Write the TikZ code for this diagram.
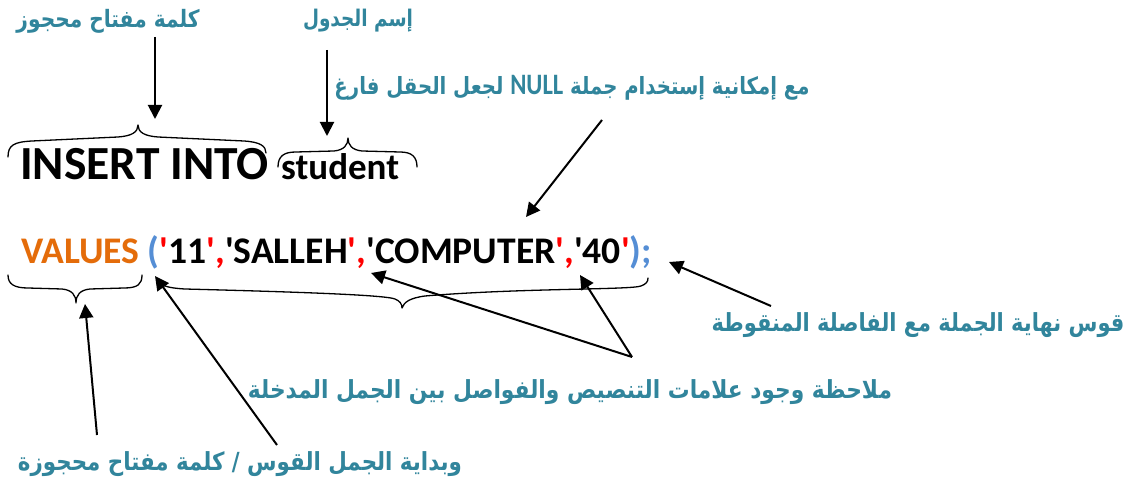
\documentclass[tikz,border=0pt]{standalone}
\usepackage{fontspec}
\usepackage{graphicx}
\usetikzlibrary{arrows.meta}
\TeXXeTstate=1
\newfontfamily\arabicfont[Script=Arabic]{DejaVu Sans}
\newfontfamily\carlito{Carlito}[Ligatures=TeXOff]
\definecolor{labteal}{HTML}{31859C}
\definecolor{kworange}{HTML}{E46C0A}
\definecolor{parblue}{HTML}{558ED5}
\definecolor{quotered}{HTML}{FF0000}
\newcommand{\ar}[1]{{\arabicfont\bfseries\fontsize{20}{24}\selectfont\beginR #1\endR}}
\tikzset{
  lab/.style={inner sep=0pt, text=labteal},
  code/.style={inner sep=0pt, anchor=base west},
  arr/.style={line width=2pt, -{Triangle[length=14pt,width=14pt]}},
  brc/.style={line width=1.3pt, line join=round, line cap=round}
}
\begin{document}
\begin{tikzpicture}[x=1pt,y=-1pt]
\useasboundingbox[fill=white] (0,0) rectangle (1135,486);

% code lines
\node[code] (ins) at (20,180) {\carlito\bfseries\fontsize{47.5}{50}\selectfont INSERT INTO};
\node[code] (stu) at (281,180) {\carlito\bfseries\fontsize{37}{40}\selectfont student};
\node[code] (val) at (21,264) {\carlito\bfseries\fontsize{37.6}{42}\selectfont
  \textcolor{kworange}{VALUES} \textcolor{parblue}{(}\textcolor{quotered}{'}11\textcolor{quotered}{',}'SALLEH\textcolor{quotered}{',}'COMPUTER\textcolor{quotered}{',}'40\textcolor{quotered}{'}\textcolor{parblue}{);}};

% labels
\node[lab] (l1) at (108,21) {\resizebox*{183pt}{24pt}{\ar{كلمة مفتاح محجوز}}};
\node[lab] (l2) at (358,21) {\resizebox*{110pt}{23pt}{\ar{إسم الجدول}}};
\node[lab] (l3) at (572,88) {\resizebox*{475pt}{25pt}{\ar{مع إمكانية إستخدام جملة {\carlito\bfseries\fontsize{25}{28}\selectfont\beginL NULL\endL} لجعل الحقل فارغ}}};
\node[lab] (l4) at (918,325) {\resizebox*{413pt}{25pt}{\ar{قوس نهاية الجملة مع الفاصلة المنقوطة}}};
\node[lab] (l5) at (570,392) {\resizebox*{644pt}{25pt}{\ar{ملاحظة وجود علامات التنصيص والفواصل بين الجمل المدخلة}}};
\node[lab] (l6) at (240,464) {\resizebox*{444pt}{25pt}{\ar{وبداية الجمل القوس / كلمة مفتاح محجوزة}}};

% braces
\draw[brc] (8,157) .. controls (8,145) and (14,142) .. (32,141) -- (118,137) .. controls (132,136) and (138,132) .. (138,125)
  .. controls (138,132) and (144,136) .. (158,137) -- (244,141) .. controls (260,142) and (266,146) .. (266,153);
\draw[brc] (278,167) .. controls (278,156) and (284,152) .. (296,152) -- (334,151) .. controls (344,150) and (348,145) .. (348,138)
  .. controls (348,145) and (352,150) .. (362,151) -- (400,152) .. controls (412,152) and (417,157) .. (417,167);
\draw[brc] (8,275) .. controls (8,284) and (14,288) .. (28,288) -- (62,289) .. controls (72,290) and (76,295) .. (76,303)
  .. controls (76,295) and (80,290) .. (90,289) -- (124,288) .. controls (138,288) and (142,284) .. (142,275);
\draw[brc] (158,279) .. controls (160,286) and (168,288) .. (185,289) .. controls (300,292) and (385,295) .. (395,299)
  .. controls (400,301) and (402,304) .. (402,308) .. controls (404,302) and (410,298) .. (425,296)
  .. controls (520,288) and (630,290) .. (641,286) .. controls (646,284) and (648,282) .. (648,278);

% connector end points
\coordinate (s1) at (155,37);   \coordinate (t1) at (155,119);
\coordinate (s2) at (327,50);   \coordinate (t2) at (327,136);
\coordinate (s3) at (602,120);  \coordinate (t3) at (526,217);
\coordinate (s4) at (771,306);  \coordinate (t4) at (669,262);
\coordinate (apex) at (632,357);
\coordinate (t5) at (371,273);  \coordinate (t6) at (580,275);
\coordinate (s7) at (97,435);   \coordinate (t7) at (85,304);
\coordinate (s8) at (277,445);  \coordinate (t8) at (155,276);

\draw[arr] (s1) -- (t1);
\draw[arr] (s2) -- (t2);
\draw[arr] (s3) -- (t3);
\draw[arr] (s4) -- (t4);
\draw[arr] (apex) -- (t5);
\draw[arr] (apex) -- (t6);
\draw[arr] (s7) -- (t7);
\draw[arr] (s8) -- (t8);
\end{tikzpicture}
\end{document}
